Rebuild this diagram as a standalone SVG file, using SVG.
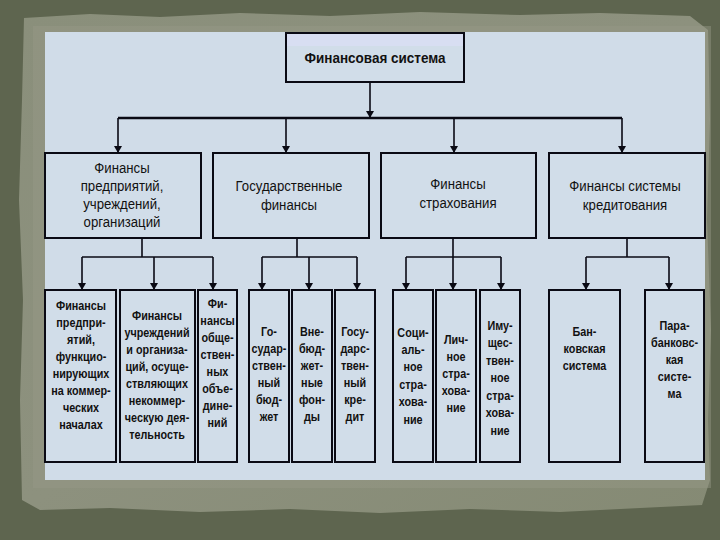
<svg xmlns="http://www.w3.org/2000/svg" width="720" height="540" viewBox="0 0 720 540">
<defs>
<style>
.box{fill:#d1dde9;stroke:#0a0a14;stroke-width:2}
.con{fill:none;stroke:#0a0a14;stroke-width:1.6}
.t2{font-family:"Liberation Sans",Arial,sans-serif;font-size:15px;fill:#111;text-anchor:middle}
.t3{font-family:"Liberation Sans",Arial,sans-serif;font-size:13.5px;font-weight:bold;fill:#111;text-anchor:middle}
.t1{font-family:"Liberation Sans",Arial,sans-serif;font-size:15px;font-weight:bold;fill:#111;text-anchor:middle}
</style>
<marker id="ad" markerWidth="8" markerHeight="7" refX="4" refY="7" markerUnits="userSpaceOnUse" viewBox="0 0 8 7">
<path d="M0,0 L8,0 L4,7 Z" fill="#0a0a14"/>
</marker>
<linearGradient id="paper" x1="0" y1="0" x2="1" y2="1">
<stop offset="0" stop-color="#8a8f7b"/>
<stop offset="0.5" stop-color="#8d917e"/>
<stop offset="1" stop-color="#858a74"/>
</linearGradient>
</defs>
<rect x="0" y="0" width="720" height="540" fill="#5e654f"/>
<path d="M24,18 L90,14 L160,17 L240,13 L330,16 L420,12 L520,15 L600,13 L690,16 L708,30 L710,120 L707,220 L711,330 L708,420 L710,480 L702,505 L640,508 L560,512 L470,509 L380,513 L290,509 L200,512 L110,508 L40,510 L22,500 L20,400 L23,300 L19,200 L22,100 Z" fill="url(#paper)"/>
<rect x="33" y="26" width="678" height="462" fill="#969a88" opacity="0.45"/>
<rect x="45" y="32" width="660" height="448" fill="#d0dce8"/>

<g id="connectors">
<path class="con" d="M370,83 V118" marker-end="url(#ad)"/>
<path class="con" d="M118,118 H622" style="stroke-width:2.4"/>
<path class="con" d="M118,118 V153" marker-end="url(#ad)"/>
<path class="con" d="M286,118 V153" marker-end="url(#ad)"/>
<path class="con" d="M454,118 V153" marker-end="url(#ad)"/>
<path class="con" d="M622,118 V153" marker-end="url(#ad)"/>

<path class="con" d="M142,238 V257 M82,257 H213"/>
<path class="con" d="M82,257 V290" marker-end="url(#ad)"/>
<path class="con" d="M154,257 V290" marker-end="url(#ad)"/>
<path class="con" d="M213,257 V290" marker-end="url(#ad)"/>

<path class="con" d="M297,238 V257 M262,257 H357"/>
<path class="con" d="M262,257 V290" marker-end="url(#ad)"/>
<path class="con" d="M309,257 V290" marker-end="url(#ad)"/>
<path class="con" d="M357,257 V290" marker-end="url(#ad)"/>

<path class="con" d="M453,238 V257 M406,257 H501"/>
<path class="con" d="M406,257 V290" marker-end="url(#ad)"/>
<path class="con" d="M453,257 V290" marker-end="url(#ad)"/>
<path class="con" d="M501,257 V290" marker-end="url(#ad)"/>

<path class="con" d="M627,238 V257 M586,257 H669"/>
<path class="con" d="M586,257 V290" marker-end="url(#ad)"/>
<path class="con" d="M669,257 V290" marker-end="url(#ad)"/>
</g>

<g id="n-root">
<rect class="box" x="286" y="33" width="178" height="49"/>
<rect x="287" y="34" width="176" height="12" fill="#d8def2"/>
<g transform="translate(375 0) scale(0.9 1)">
<text class="t1" x="0" y="63">Финансовая система</text>
</g>
</g>

<g id="n-fin-pred">
<rect class="box" x="45" y="153" width="156" height="85"/>
<g transform="translate(122 0) scale(0.88 1)">
<text class="t2" x="0" y="173">Финансы</text>
<text class="t2" x="0" y="191">предприятий,</text>
<text class="t2" x="0" y="209">учреждений,</text>
<text class="t2" x="0" y="227">организаций</text>
</g>
</g>
<g id="n-gos-fin">
<rect class="box" x="213" y="153" width="156" height="85"/>
<g transform="translate(289 0) scale(0.88 1)">
<text class="t2" x="0" y="191">Государственные</text>
<text class="t2" x="0" y="210">финансы</text>
</g>
</g>
<g id="n-fin-strah">
<rect class="box" x="381" y="153" width="155" height="85"/>
<g transform="translate(458 0) scale(0.88 1)">
<text class="t2" x="0" y="189">Финансы</text>
<text class="t2" x="0" y="208">страхования</text>
</g>
</g>
<g id="n-fin-kred">
<rect class="box" x="549" y="153" width="156" height="85"/>
<g transform="translate(625 0) scale(0.88 1)">
<text class="t2" x="0" y="191">Финансы системы</text>
<text class="t2" x="0" y="210">кредитования</text>
</g>
</g>

<g id="n-a">
<rect class="box" x="45" y="290" width="71" height="172"/>
<g transform="translate(81 0) scale(0.8 1)">
<text class="t3" x="0" y="310">Финансы</text>
<text class="t3" x="0" y="327">предпри-</text>
<text class="t3" x="0" y="344">ятий,</text>
<text class="t3" x="0" y="361">функцио-</text>
<text class="t3" x="0" y="378">нирующих</text>
<text class="t3" x="0" y="395">на коммер-</text>
<text class="t3" x="0" y="412">ческих</text>
<text class="t3" x="0" y="429">началах</text>
</g>
</g>
<g id="n-b">
<rect class="box" x="120" y="290" width="75" height="172"/>
<g transform="translate(157 0) scale(0.8 1)">
<text class="t3" x="0" y="320">Финансы</text>
<text class="t3" x="0" y="337">учреждений</text>
<text class="t3" x="0" y="354">и организа-</text>
<text class="t3" x="0" y="371">ций, осуще-</text>
<text class="t3" x="0" y="388">ствляющих</text>
<text class="t3" x="0" y="405">некоммер-</text>
<text class="t3" x="0" y="422">ческую дея-</text>
<text class="t3" x="0" y="439">тельность</text>
</g>
</g>
<g id="n-c">
<rect class="box" x="198" y="290" width="39" height="172"/>
<g transform="translate(217.5 0) scale(0.8 1)">
<text class="t3" x="0" y="308">Фи-</text>
<text class="t3" x="0" y="325">нансы</text>
<text class="t3" x="0" y="342">обще-</text>
<text class="t3" x="0" y="359">ствен-</text>
<text class="t3" x="0" y="376">ных</text>
<text class="t3" x="0" y="393">объе-</text>
<text class="t3" x="0" y="410">дине-</text>
<text class="t3" x="0" y="427">ний</text>
</g>
</g>
<g id="n-d">
<rect class="box" x="249" y="290" width="40" height="172"/>
<g transform="translate(269 0) scale(0.8 1)">
<text class="t3" x="0" y="336">Го-</text>
<text class="t3" x="0" y="353">судар-</text>
<text class="t3" x="0" y="370">ствен-</text>
<text class="t3" x="0" y="387">ный</text>
<text class="t3" x="0" y="404">бюд-</text>
<text class="t3" x="0" y="421">жет</text>
</g>
</g>
<g id="n-e">
<rect class="box" x="292" y="290" width="40" height="172"/>
<g transform="translate(312 0) scale(0.8 1)">
<text class="t3" x="0" y="336">Вне-</text>
<text class="t3" x="0" y="353">бюд-</text>
<text class="t3" x="0" y="370">жет-</text>
<text class="t3" x="0" y="387">ные</text>
<text class="t3" x="0" y="404">фон-</text>
<text class="t3" x="0" y="421">ды</text>
</g>
</g>
<g id="n-f">
<rect class="box" x="335" y="290" width="40" height="172"/>
<g transform="translate(355 0) scale(0.8 1)">
<text class="t3" x="0" y="336">Госу-</text>
<text class="t3" x="0" y="353">дарс-</text>
<text class="t3" x="0" y="370">твен-</text>
<text class="t3" x="0" y="387">ный</text>
<text class="t3" x="0" y="404">кре-</text>
<text class="t3" x="0" y="421">дит</text>
</g>
</g>
<g id="n-g">
<rect class="box" x="393" y="290" width="40" height="172"/>
<g transform="translate(413 0) scale(0.8 1)">
<text class="t3" x="0" y="337">Соци-</text>
<text class="t3" x="0" y="354">аль-</text>
<text class="t3" x="0" y="371">ное</text>
<text class="t3" x="0" y="389">стра-</text>
<text class="t3" x="0" y="406">хова-</text>
<text class="t3" x="0" y="424">ние</text>
</g>
</g>
<g id="n-h">
<rect class="box" x="436" y="290" width="40" height="172"/>
<g transform="translate(456 0) scale(0.8 1)">
<text class="t3" x="0" y="344">Лич-</text>
<text class="t3" x="0" y="361">ное</text>
<text class="t3" x="0" y="378">стра-</text>
<text class="t3" x="0" y="395">хова-</text>
<text class="t3" x="0" y="412">ние</text>
</g>
</g>
<g id="n-i">
<rect class="box" x="480" y="290" width="40" height="172"/>
<g transform="translate(500 0) scale(0.8 1)">
<text class="t3" x="0" y="330">Иму-</text>
<text class="t3" x="0" y="347">щес-</text>
<text class="t3" x="0" y="365">твен-</text>
<text class="t3" x="0" y="382">ное</text>
<text class="t3" x="0" y="400">стра-</text>
<text class="t3" x="0" y="417">хова-</text>
<text class="t3" x="0" y="435">ние</text>
</g>
</g>
<g id="n-j">
<rect class="box" x="549" y="290" width="71" height="172"/>
<g transform="translate(584.5 0) scale(0.8 1)">
<text class="t3" x="0" y="336">Бан-</text>
<text class="t3" x="0" y="353">ковская</text>
<text class="t3" x="0" y="370">система</text>
</g>
</g>
<g id="n-k">
<rect class="box" x="645" y="290" width="59" height="172"/>
<g transform="translate(674.5 0) scale(0.8 1)">
<text class="t3" x="0" y="330">Пара-</text>
<text class="t3" x="0" y="347">банковс-</text>
<text class="t3" x="0" y="364">кая</text>
<text class="t3" x="0" y="381">систе-</text>
<text class="t3" x="0" y="398">ма</text>
</g>
</g>
</svg>
